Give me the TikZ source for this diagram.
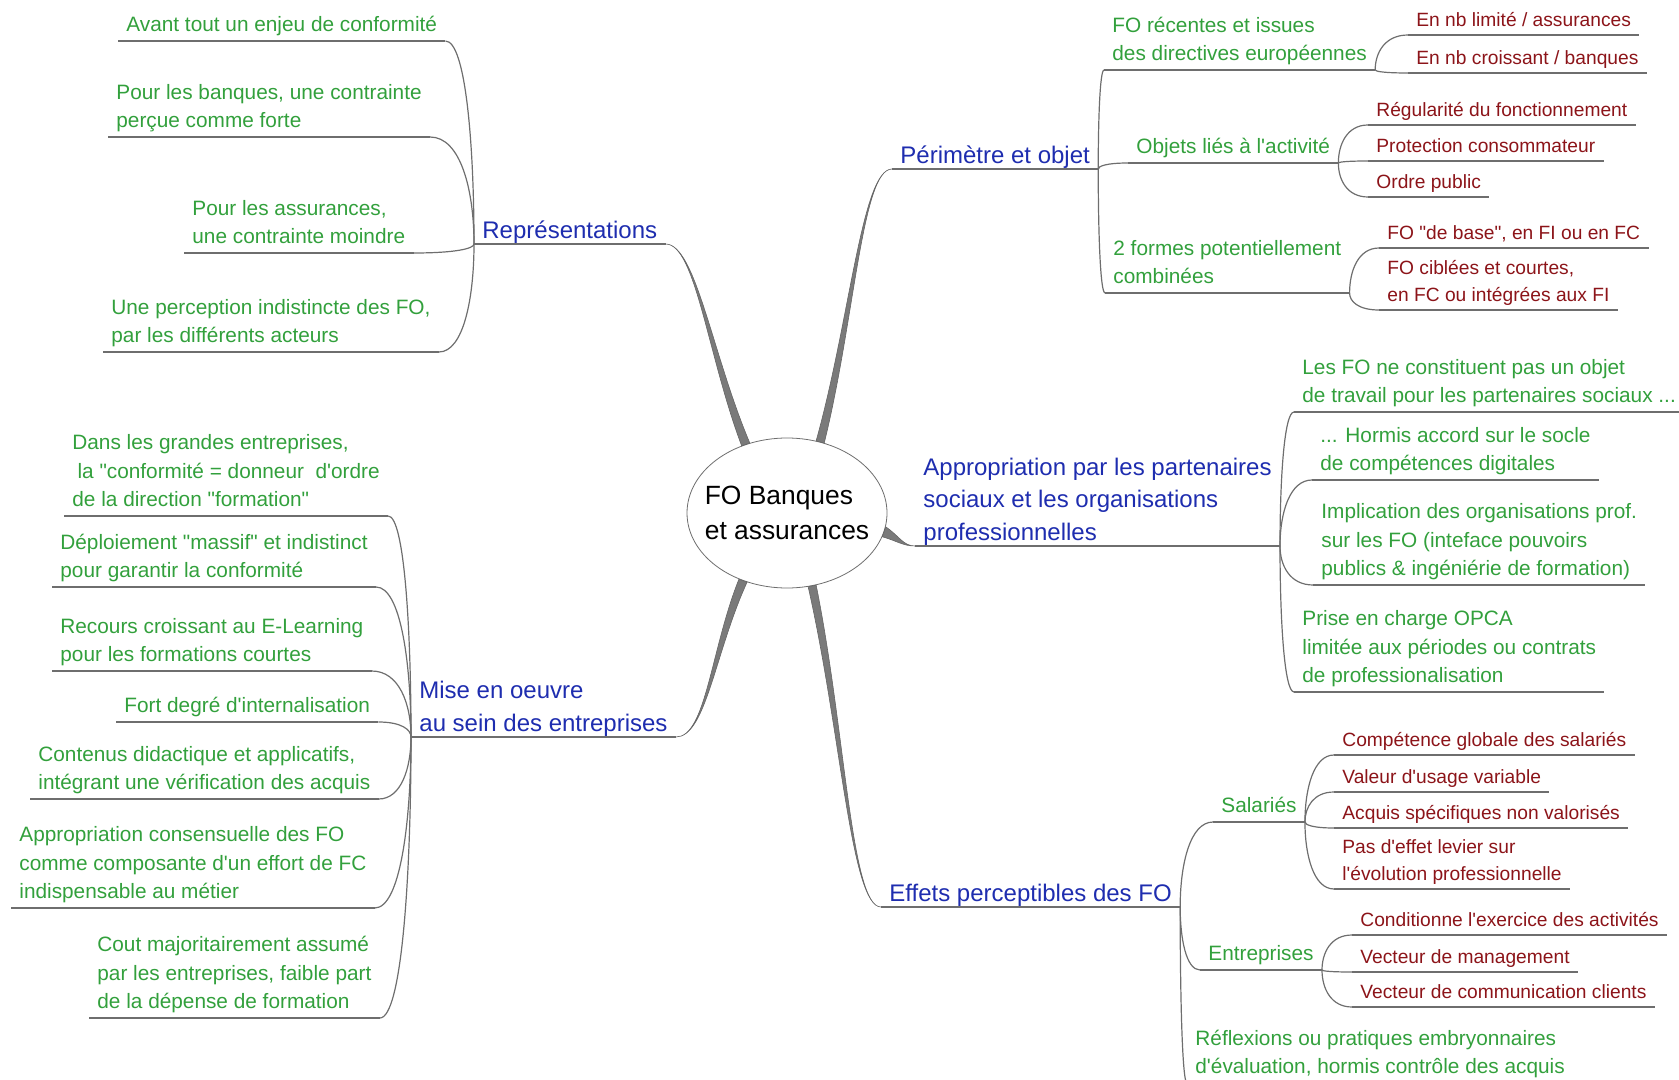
\documentclass[tikz,border=0pt]{standalone}
\usepackage{fontspec}
\setmainfont{Liberation Sans}[Ligatures=TeXOff]
\usepackage{tikz}
\usetikzlibrary{calc,shapes.geometric}
\definecolor{mmblue}{RGB}{30,45,175}
\definecolor{mmgreen}{RGB}{50,160,60}
\definecolor{mmred}{RGB}{140,20,25}
\definecolor{linegray}{RGB}{110,110,110}
\tikzset{
  hub/.style={ellipse,draw=linegray,fill=white,minimum width=100pt,minimum height=75pt,
    inner xsep=-6pt,inner ysep=0pt,align=left,font=\fontsize{13.2}{17.5}\selectfont},
  topic/.style={anchor=south west,inner xsep=4pt,inner ysep=0pt,align=left,text=mmblue,
    font=\fontsize{12}{16.4}\selectfont},
  idea/.style={topic,text=mmgreen,inner ysep=0.3pt,font=\fontsize{10.4}{14.2}\selectfont,
    execute at end node=\strut},
  leaf/.style={topic,text=mmred,font=\fontsize{9.6}{13.4}\selectfont,execute at end node=\strut},
  uline/.style={draw=linegray,line width=0.6pt},
  twig/.style={uline,to path={.. controls ($(\tikztostart)!0.5!(\tikztostart |- \tikztotarget)$)
    and ($(\tikztotarget)!0.7!(\tikztostart |- \tikztotarget)$) .. (\tikztotarget)}},
  branch/.style={fill=black!52,draw=black!60,line width=0.3pt},
}

\begin{document}
\begin{tikzpicture}[x=0.5pt,y=-0.5pt]
\useasboundingbox (0,0) rectangle (1679,1080);
% centre
\node[hub] (fo) at (787,513) {FO Banques\\et assurances};

% main topics
\node[topic] (rep) at (474,244) {Représentations};
\node[topic] (mise) at (411,737) {Mise en oeuvre\\au sein des entreprises};
\node[topic] (per) at (892,169) {Périmètre et objet};
\node[topic] (app) at (915,546) {Appropriation par les partenaires\\sociaux et les organisations\\professionnelles};
\node[topic] (eff) at (881,907) {Effets perceptibles des FO};

% Représentations
\node[idea] (r1) at (118,41) {Avant tout un enjeu de conformité};
\node[idea] (r2) at (108,137) {Pour les banques, une contrainte\\perçue comme forte};
\node[idea] (r3) at (184,253) {Pour les assurances,\\une contrainte moindre};
\node[idea] (r4) at (103,352) {Une perception indistincte des FO,\\par les différents acteurs};

% Mise en oeuvre
\node[idea] (m1) at (64,516) {Dans les grandes entreprises,\\\hspace*{0.25em}la "conformité = donneur\ \ d'ordre\\de la direction "formation"};
\node[idea] (m2) at (52,587) {Déploiement "massif" et indistinct\\pour garantir la conformité};
\node[idea] (m3) at (52,671) {Recours croissant au E-Learning\\pour les formations courtes};
\node[idea] (m4) at (116,722) {Fort degré d'internalisation};
\node[idea] (m5) at (30,799) {Contenus didactique et applicatifs,\\intégrant une vérification des acquis};
\node[idea] (m6) at (11,908) {Appropriation consensuelle des FO\\comme composante d'un effort de FC\\indispensable au métier};
\node[idea] (m7) at (89,1018) {Cout majoritairement assumé\\par les entreprises, faible part\\de la dépense de formation};

% Périmètre et objet
\node[idea] (p1) at (1104,70) {FO récentes et issues\\des directives européennes};
\node[leaf] (p1a) at (1408,35) {En nb limité / assurances};
\node[leaf] (p1b) at (1408,73) {En nb croissant / banques};
\node[idea] (p2) at (1128,163) {Objets liés à l'activité};
\node[leaf] (p2a) at (1368,125) {Régularité du fonctionnement};
\node[leaf] (p2b) at (1368,161) {Protection consommateur};
\node[leaf] (p2c) at (1368,197) {Ordre public};
\node[idea] (p3) at (1105,293) {2 formes potentiellement\\combinées};
\node[leaf] (p3a) at (1379,248) {FO "de base", en FI ou en FC};
\node[leaf] (p3b) at (1379,310) {FO ciblées et courtes,\\en FC ou intégrées aux FI};

% Appropriation
\node[idea] (a1) at (1294,412) {Les FO ne constituent pas un objet\\de travail pour les partenaires sociaux ...};
\node[idea] (a2) at (1312,480) {... Hormis accord sur le socle\\de compétences digitales};
\node[idea] (a3) at (1313,585) {Implication des organisations prof.\\sur les FO (inteface pouvoirs\\publics \& ingéniérie de formation)};
\node[idea] (a4) at (1294,692) {Prise en charge OPCA\\limitée aux périodes ou contrats\\de professionalisation};

% Effets
\node[idea] (e1) at (1213,822) {Salariés};
\node[leaf] (e1a) at (1334,755) {Compétence globale des salariés};
\node[leaf] (e1b) at (1334,792) {Valeur d'usage variable};
\node[leaf] (e1c) at (1334,828) {Acquis spécifiques non valorisés};
\node[leaf] (e1d) at (1334,889) {Pas d'effet levier sur\\l'évolution professionnelle};
\node[idea] (e2) at (1200,970) {Entreprises};
\node[leaf] (e2a) at (1352,935) {Conditionne l'exercice des activités};
\node[leaf] (e2b) at (1352,972) {Vecteur de management};
\node[leaf] (e2c) at (1352,1007) {Vecteur de communication clients};
\node[idea] (e3) at (1187,1083) {Réflexions ou pratiques embryonnaires\\d'évaluation, hormis contrôle des acquis};

% thick tapered branches out of the ellipse
\foreach \ang/\tip/\sh in {121/rep.south east/30,237/mise.south east/30,65/per.south west/-30,
    289/eff.south west/-30,349/app.south west/-12}{
  \pgfmathtruncatemacro\al{\ang-3}\pgfmathtruncatemacro\ar{\ang+3}
  \filldraw[branch] (fo.\al) .. controls ($(fo.\al)!0.45!(\tip)$) and ($(\tip)+(\sh,0)$) .. (\tip)
    .. controls ($(\tip)+(\sh,0)$) and ($(fo.\ar)!0.45!(\tip)$) .. (fo.\ar) -- cycle;
}

% thin connectors
\foreach \c in {r1,r2,r3,r4} \draw[twig] (rep.south west) to (\c.south east);
\foreach \c in {m1,m2,m3,m4,m5,m6,m7} \draw[twig] (mise.south west) to (\c.south east);
\foreach \c in {p1,p2,p3} \draw[twig] (per.south east) to (\c.south west);
\foreach \c in {a1,a2,a3,a4} \draw[twig] (app.south east) to (\c.south west);
\foreach \c in {e1,e2,e3} \draw[twig] (eff.south east) to (\c.south west);
\foreach \p/\c in {p1/p1a,p1/p1b,p2/p2a,p2/p2b,p2/p2c,p3/p3a,p3/p3b,
    e1/e1a,e1/e1b,e1/e1c,e1/e1d,e2/e2a,e2/e2b,e2/e2c}
  \draw[twig] (\p.south east) to (\c.south west);

% underlines
\foreach \n in {rep,mise,per,app,eff,r1,r2,r3,r4,m1,m2,m3,m4,m5,m6,m7,p1,p1a,p1b,p2,p2a,p2b,p2c,
    p3,p3a,p3b,a1,a2,a3,a4,e1,e1a,e1b,e1c,e1d,e2,e2a,e2b,e2c,e3}
  \draw[uline] (\n.south west) -- (\n.south east);
\end{tikzpicture}
\end{document}
